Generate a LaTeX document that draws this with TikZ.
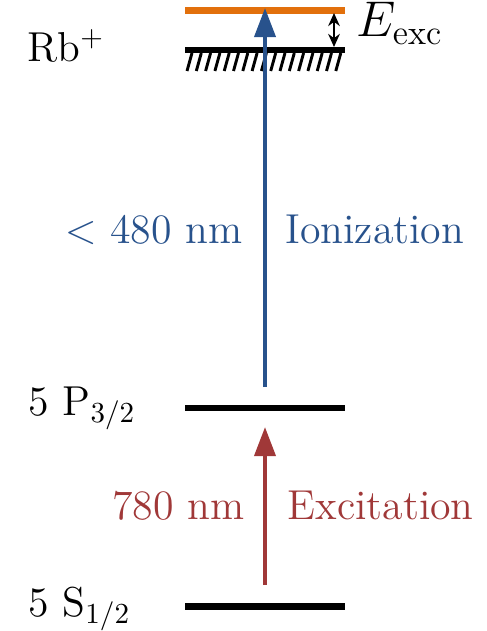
\documentclass[tikz,border=0pt]{standalone}
\usepackage{amsmath}
\usepackage{amssymb}
\usetikzlibrary{arrows.meta}

\definecolor{ionblue}{RGB}{40,82,140}
\definecolor{excred}{RGB}{160,56,56}
\definecolor{exorange}{RGB}{226,112,12}

\tikzset{
  level/.style={line width=2.4pt},
  lbl/.style={inner sep=0pt, font=\Large},
  transition/.style={line width=1.4pt, -{Triangle[length=10pt,width=7.2pt]}}
}

\begin{document}
\begin{tikzpicture}[x=0.0121cm, y=-0.0121cm]
\useasboundingbox (0,0) rectangle (486,631);
%levels
\path
(185,606.5) coordinate (S-l)
(345,606.5) coordinate (S-r)
(185,408) coordinate (P-l)
(345,408) coordinate (P-r)
(185,50) coordinate (Rb-l)
(345,50) coordinate (Rb-r)
(185,10.5) coordinate (exc-l)
(345,10.5) coordinate (exc-r)
(265,585) coordinate (red-a)
(265,427) coordinate (red-b)
(265,387) coordinate (blue-a)
(265,8) coordinate (blue-b)
(334,13) coordinate (E-a)
(334,47) coordinate (E-b);
\path
(27,62) node[lbl, anchor=base west] (Rb) {Rb$^+$}
(28,415) node[lbl, anchor=base west] (P) {5 P$_{3/2}$}
(28,616) node[lbl, anchor=base west] (S) {5 S$_{1/2}$}
(356,37) node[lbl, anchor=base west, font=\LARGE] (E) {$E_\mathrm{exc}$}
(243,243) node[lbl, anchor=base east, text=ionblue] (ionwl) {$<$ 480 nm}
(285,243) node[lbl, anchor=base west, text=ionblue] (ion) {Ionization}
(245,519) node[lbl, anchor=base east, text=excred] (excwl) {780 nm}
(287,519) node[lbl, anchor=base west, text=excred] (exc) {Excitation};
\draw[level] (S-l) -- (S-r);
\draw[level] (P-l) -- (P-r);
\draw[level] (Rb-l) -- (Rb-r);
\draw[level, exorange] (exc-l) -- (exc-r);
%hatching under the ionization limit
\foreach \i in {0,...,16}
  \draw[line width=1pt] (187+\i*9.3,71) -- ++(5,-18);
\draw[transition, excred] (red-a) -- (red-b);
\draw[transition, ionblue] (blue-a) -- (blue-b);
\draw[line width=0.9pt, {Stealth[length=4.5pt,width=4pt]}-{Stealth[length=4.5pt,width=4pt]}] (E-a) -- (E-b);
\end{tikzpicture}
\end{document}
